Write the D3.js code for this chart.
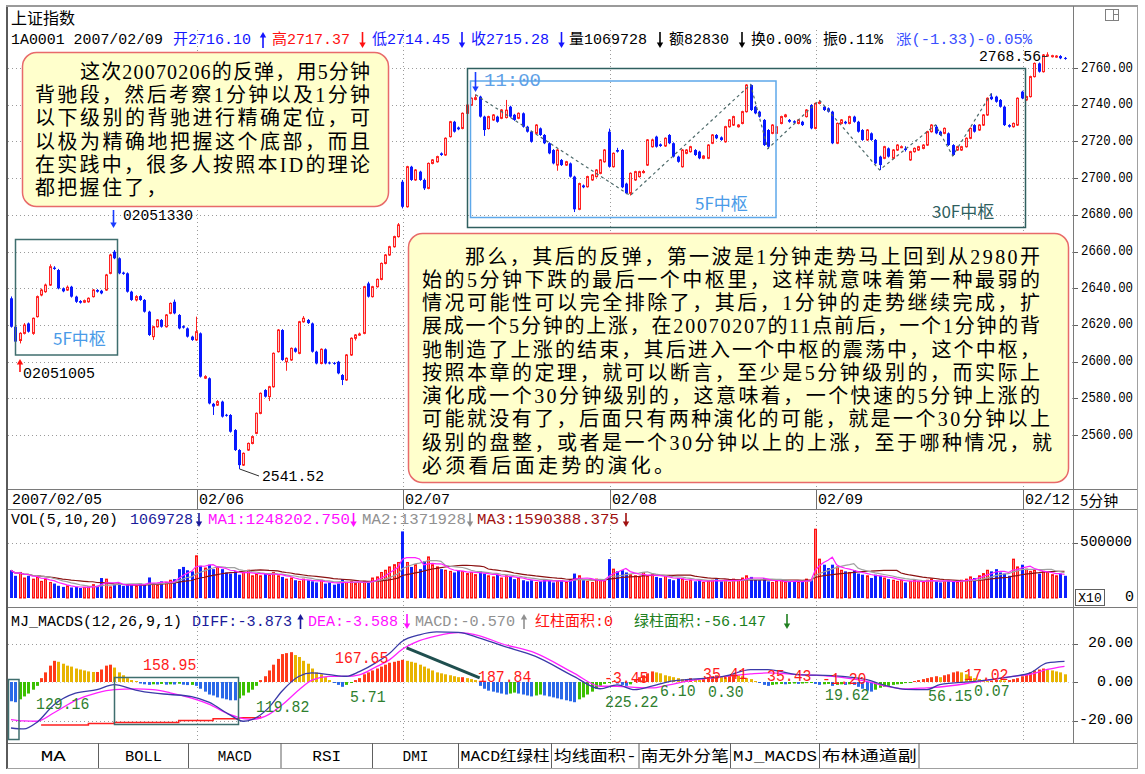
<!DOCTYPE html>
<html><head><meta charset="utf-8">
<script src="https://cdn.jsdelivr.net/npm/d3@7/dist/d3.min.js"></script>
<style>html,body{margin:0;padding:0;background:#fff}svg{display:block}</style>
</head><body><svg id="c" width="1145" height="774"></svg>
<script>
// ---------------- DATA ----------------
const dayLabels = ["2007/02/05","02/06","02/07","02/08","02/09","02/12"];
const dayStartBars = [1,44,92,140,188,236];
const priceTicks = [2560,2580,2600,2620,2640,2660,2680,2700,2720,2740,2760];
const volTicks = [500];      // thousands -> label 500000
const macdTicks = [20,0,-20];

const opens = [2634.5,2619.0,2611.5,2615.4,2620.8,2615.4,2624.5,2636.3,2638.1,2641.7,
2651.2,2649.9,2639.9,2639.0,2640.8,2635.4,2633.0,2632.4,2632.6,2635.4,
2639.0,2638.6,2639.0,2648.1,2659.9,2656.3,2648.5,2648.1,2638.1,2633.6,
2635.7,2633.6,2627.2,2613.6,2619.0,2622.7,2619.0,2626.3,2632.6,2625.4,
2619.3,2618.1,2613.6,
2611.8,2615.4,2591.0,2590.9,2577.0,2576.3,2578.2,2571.0,2570.9,2562.7,
2551.8,2543.6,2551.8,2555.4,2560.9,2571.8,2584.5,2580.9,2586.3,2605.4,
2617.2,2599.9,2600.9,2607.2,2604.5,2621.7,2622.7,2620.8,2605.4,2599.0,
2606.7,2599.5,2599.3,2599.9,2592.7,2590.0,2603.6,2612.7,2614.5,2615.4,
2642.6,2635.4,2640.8,2644.8,2653.5,2658.1,2662.6,2668.1,
2698.0,2684.4,2706.2,2699.0,2703.5,2699.0,2694.4,2708.0,2708.9,2713.5,
2712.6,2722.6,2730.7,2727.6,2727.1,2735.3,2739.8,2742.9,2744.4,2733.5,
2727.0,2731.7,2733.5,2732.6,2733.0,2738.9,2734.5,2732.6,2735.3,2728.0,
2725.3,2724.4,2727.1,2723.5,2719.0,2715.3,2707.1,2709.9,2707.1,2708.0,
2700.8,2683.0,2696.0,2695.3,2699.0,2700.8,2702.6,2708.9,
2725.3,2706.2,2715.3,2715.3,2697.0,2691.7,2699.0,2700.8,2703.0,2707.1,
2717.1,2722.6,2718.4,2717.5,2723.5,2719.0,2711.7,2706.2,2713.5,2714.4,
2715.3,2714.4,2710.8,2710.8,2719.0,2723.5,2722.2,2719.8,2728.0,2728.9,
2728.0,2729.8,2736.2,2750.7,2738.9,2736.2,2731.7,2726.2,2724.4,2724.4,
2729.8,2733.5,2731.7,2731.0,2729.8,2730.7,2733.5,2739.8,
2727.1,2740.7,2738.9,2738.0,2736.2,2719.0,2729.8,2730.7,2729.8,2733.5,
2730.7,2726.2,2720.8,2724.4,2720.8,2711.7,2710.8,2716.2,2710.8,2715.3,
2716.8,2716.10,2709.9,2714.4,2715.3,2716.2,2718.0,2725.3,2728.0,2725.3,
2724.4,2724.4,2718.0,2715.3,2715.3,2717.1,2721.7,2728.9,2726.2,2728.9,
2734.4,2744.4,2744.4,2742.6,2738.9,2728.9,2728.0,2728.9,
2747.1,2742.6,2744.4,2755.3,2762.5,2758.0,2766.5,2766.2,2766.0,2766.5,2765.5];

const closes = [2619.0,2610.9,2615.4,2619.9,2616.3,2623.6,2635.4,2639.0,2641.7,2651.7,
2650.5,2639.9,2638.3,2640.5,2635.4,2632.6,2632.1,2633.2,2634.5,2639.0,
2638.1,2637.2,2647.2,2658.1,2656.3,2648.1,2647.8,2638.1,2633.6,2635.4,
2633.6,2627.2,2614.5,2619.0,2622.7,2619.0,2625.4,2631.7,2626.3,2618.1,
2618.5,2613.6,2611.8,
2616.3,2591.8,2591.8,2577.2,2575.5,2578.2,2570.0,2570.5,2561.8,2551.8,
2543.6,2550.0,2555.4,2559.1,2571.8,2582.7,2580.9,2586.3,2604.5,2617.2,
2600.9,2601.8,2607.2,2605.4,2621.7,2623.6,2621.0,2605.4,2599.0,2606.7,
2599.0,2599.0,2598.8,2593.6,2590.0,2603.6,2612.7,2614.5,2615.0,2640.8,
2635.4,2640.8,2644.8,2653.5,2658.1,2662.6,2668.1,2674.5,
2684.4,2706.2,2699.0,2704.4,2699.0,2694.4,2708.0,2709.9,2711.7,2712.6,
2721.7,2730.7,2725.3,2726.6,2735.3,2739.8,2743.5,2743.8,2733.5,2726.2,
2733.5,2734.4,2730.7,2737.1,2737.0,2733.5,2731.7,2735.3,2728.0,2725.3,
2719.8,2728.9,2723.5,2719.0,2713.5,2708.0,2715.3,2707.1,2708.9,2700.8,
2683.0,2697.0,2695.0,2700.8,2701.7,2704.4,2709.9,2715.3,
2706.2,2713.5,2714.4,2695.0,2691.7,2702.6,2703.5,2703.5,2703.6,2720.8,
2720.8,2717.1,2717.5,2721.7,2719.0,2711.7,2708.9,2715.3,2715.3,2717.1,
2712.6,2710.8,2712.0,2718.0,2723.5,2721.7,2720.8,2728.0,2731.7,2733.5,
2728.9,2736.2,2750.7,2737.1,2735.3,2733.5,2718.0,2717.1,2728.9,2728.0,
2733.5,2734.4,2730.7,2730.2,2731.7,2728.9,2737.1,2727.1,
2740.7,2741.3,2737.1,2736.2,2719.0,2729.8,2731.7,2729.8,2733.5,2730.7,
2725.3,2720.8,2726.2,2720.8,2708.0,2707.1,2717.1,2711.7,2715.3,2718.0,
2717.1,2715.28,2714.4,2716.2,2717.1,2718.0,2725.3,2728.9,2724.4,2723.5,
2727.1,2718.0,2712.6,2717.1,2717.1,2721.7,2727.1,2725.3,2728.9,2734.4,
2743.5,2743.0,2741.6,2738.9,2728.9,2728.0,2729.8,2743.5,
2743.5,2744.4,2755.3,2762.5,2758.0,2767.1,2767.1,2766.7,2766.5,2765.3,2765.0];

const highs = [2635.5,2619.5,2616.0,2621.0,2621.3,2624.0,2636.0,2639.8,2642.5,2653.0,
2652.0,2650.5,2640.4,2641.5,2641.3,2635.9,2633.5,2633.8,2635.0,2639.5,
2639.5,2639.1,2647.8,2658.8,2660.8,2656.8,2649.0,2648.6,2638.6,2636.2,
2636.2,2634.1,2627.7,2619.5,2623.2,2623.2,2625.9,2632.2,2633.8,2625.9,
2619.8,2618.6,2614.1,
2624.5,2615.9,2592.6,2591.4,2577.5,2579.0,2578.7,2571.5,2571.4,2563.2,
2552.3,2550.5,2555.9,2559.6,2572.3,2583.2,2585.0,2586.8,2605.0,2617.7,
2617.7,2602.3,2607.7,2607.7,2622.2,2624.8,2623.2,2621.3,2605.9,2607.2,
2607.2,2600.0,2599.8,2600.4,2593.2,2604.1,2613.2,2615.0,2615.8,2641.3,
2643.5,2641.3,2645.3,2654.0,2658.6,2663.1,2668.6,2675.5,
2699.0,2706.7,2706.7,2704.9,2704.0,2699.5,2708.5,2710.4,2712.2,2714.0,
2722.2,2731.2,2731.2,2728.1,2735.8,2740.3,2744.0,2745.5,2744.9,2734.0,
2734.0,2734.9,2734.0,2737.6,2742.6,2739.4,2735.0,2735.8,2735.8,2728.5,
2725.8,2729.4,2727.6,2724.0,2719.5,2715.8,2715.8,2710.4,2709.4,2708.5,
2701.3,2697.5,2696.5,2701.3,2702.2,2704.9,2710.4,2715.8,
2727.0,2714.0,2716.5,2715.8,2697.5,2703.1,2704.0,2704.0,2704.5,2721.3,
2721.5,2723.1,2718.9,2722.2,2724.0,2719.5,2712.2,2715.8,2715.8,2717.6,
2715.8,2714.9,2712.5,2718.5,2724.0,2724.0,2722.7,2728.5,2732.2,2734.0,
2729.4,2736.7,2751.2,2751.0,2739.4,2736.7,2732.2,2726.7,2729.4,2728.5,
2734.0,2735.0,2732.2,2731.5,2732.2,2731.2,2737.6,2740.3,
2741.2,2742.5,2739.4,2738.5,2736.7,2730.3,2732.2,2731.2,2734.0,2734.0,
2731.2,2726.7,2726.7,2724.9,2721.3,2712.2,2717.6,2716.7,2715.8,2718.5,
2717.8,2717.37,2714.9,2716.7,2717.6,2718.5,2725.8,2729.4,2729.0,2725.8,
2727.6,2724.9,2718.5,2717.6,2717.6,2722.2,2727.6,2729.4,2729.4,2734.9,
2744.0,2746.2,2744.9,2743.1,2739.4,2729.4,2730.3,2744.0,
2747.6,2744.9,2755.8,2763.0,2763.0,2767.6,2768.56,2767.2,2767.0,2767.0,2766.0];

const lows = [2618.5,2610.4,2609.9,2614.8,2615.8,2614.6,2624.0,2635.6,2637.5,2641.2,
2650.0,2639.4,2637.8,2638.5,2634.9,2632.0,2631.6,2631.9,2632.1,2634.9,
2637.6,2636.7,2638.5,2647.6,2655.8,2647.6,2647.3,2637.6,2633.1,2632.8,
2633.1,2626.7,2614.0,2611.8,2618.5,2618.5,2618.5,2625.8,2625.8,2617.6,
2618.0,2613.1,2611.3,
2611.3,2591.3,2590.5,2576.7,2570.9,2575.8,2569.5,2570.0,2561.3,2551.3,
2541.52,2543.1,2551.3,2554.9,2560.4,2571.3,2580.4,2578.5,2585.8,2604.9,
2600.4,2595.0,2600.4,2604.9,2604.0,2621.2,2620.5,2604.9,2598.5,2598.5,
2598.5,2598.5,2598.3,2593.1,2587.2,2589.5,2603.1,2611.5,2614.0,2614.9,
2634.9,2634.9,2640.3,2644.3,2653.0,2657.6,2662.1,2667.6,
2683.5,2683.9,2698.5,2698.5,2698.5,2693.5,2693.9,2707.5,2708.4,2712.1,
2712.1,2722.1,2724.8,2726.1,2726.6,2734.8,2739.3,2742.4,2733.0,2723.0,
2726.5,2731.2,2730.2,2732.1,2732.5,2733.0,2731.2,2732.1,2727.5,2724.8,
2719.3,2723.9,2723.0,2718.5,2713.0,2707.5,2704.0,2706.6,2706.6,2700.3,
2681.5,2682.5,2694.5,2694.8,2698.5,2700.3,2702.1,2708.4,
2705.7,2705.7,2713.9,2694.5,2691.2,2690.5,2698.5,2700.3,2702.5,2706.6,
2716.6,2716.6,2717.0,2717.0,2718.5,2711.2,2708.4,2705.7,2713.0,2713.9,
2712.1,2710.3,2710.3,2710.3,2718.5,2721.2,2720.3,2719.3,2727.5,2728.4,
2727.5,2729.3,2735.7,2736.6,2734.8,2733.0,2717.5,2716.0,2723.9,2723.9,
2729.3,2733.0,2730.2,2729.7,2729.3,2728.4,2733.0,2726.6,
2726.6,2740.2,2736.6,2735.7,2718.5,2718.5,2729.3,2729.3,2729.3,2730.2,
2724.8,2720.3,2720.3,2720.3,2707.5,2704.4,2710.3,2711.2,2710.3,2714.8,
2716.3,2714.45,2709.4,2713.9,2714.8,2715.7,2717.5,2724.8,2723.9,2723.0,
2723.9,2717.5,2712.1,2714.8,2714.8,2716.6,2721.2,2724.8,2725.7,2728.4,
2733.9,2742.5,2741.1,2738.4,2728.4,2727.5,2727.5,2728.4,
2743.0,2742.1,2743.9,2754.8,2757.5,2757.5,2766.0,2765.7,2765.5,2764.8,2764.5];

// volume in thousands (axis units)
const volumes = [250,200,230,180,200,170,190,150,170,140,
130,110,100,110,95,100,90,95,100,120,
110,180,170,100,120,130,110,120,125,110,
130,120,185,130,120,150,140,160,170,260,
280,250,240,
380,290,270,300,260,280,260,
230,220,240,210,230,250,200,220,200,220,
210,230,200,190,170,180,160,150,170,160,
150,140,160,130,140,120,130,170,140,150,
130,140,150,140,180,190,230,250,280,300,320,
600,320,280,300,260,330,370,300,280,
260,250,240,230,250,240,220,230,210,240,
220,200,190,210,180,200,190,170,180,160,
150,160,140,150,170,160,140,150,160,140,
170,220,200,160,150,140,170,160,150,
350,260,240,250,230,210,200,190,230,200,210,
190,180,200,170,160,180,170,150,160,150,
160,140,150,160,170,150,160,140,170,160,
180,200,190,170,160,180,150,140,150,160,
140,150,160,140,150,170,160,
620,350,300,270,300,280,250,240,230,250,220,
210,200,180,210,200,180,170,160,150,160,
140,150,160,150,140,160,170,150,140,150,
160,150,140,160,170,190,180,200,220,250,
240,260,230,220,200,350,280,
300,260,240,250,220,240,230,210,200,220,200];

const macdHist = [-10,-10.5,-9,-7.5,-6,-4,-2,2,5,8.5,
11,10.5,9.5,8.5,8,7,6.5,6,5.5,5.2,
5.2,6.5,8.5,9,7.5,5,3.5,2,1,0.5,
-0.8,-1.2,-1.5,-1.2,-1.3,-1,-1.4,-1.2,-1.3,-0.9,
-1.4,-1.6,-1.5,-2,-3.5,-5,-6.5,-7,-8,-8.5,
-9,-9.5,-9.5,-8.5,-7,-5.5,-4,-2,1,3,
6,9,12,14.5,15,15.5,14,13,11,9.5,
7,5,4,2.5,1,-0.5,-1.5,-2.5,-1.5,-0.5,
1,2,4,5,6,7,8,9,10,10.5,
11,11.5,11,10.5,10,9,8,7,6,5,
4.5,4,3.5,3,2.5,2.5,2,1.5,1,-2,
-3.5,-4.5,-5,-5.5,-6,-6.5,-6,-5.5,-6,-6.5,
-7,-7.5,-7,-6.5,-7,-7.5,-8,-8.5,-9,-9.5,
-10,-10.5,-9,-8,-6.5,-5,-3.5,-2,-1,-0.5,
0.5,-0.8,-1.5,-2,-1.2,1,2.5,3.5,4.5,5.5,
5,4.5,3.5,3,2.5,2,1.5,1.5,2,1.5,
1,1.5,2.5,3,3.5,3,2.5,3.5,4,3.5,
3,2,1.5,0.5,-0.5,-1.5,-2,-1.5,-1.2,-1,
-1.2,-1,-0.8,-1,-0.8,-0.6,-0.5,-1,-1.5,-1.2,
-1,-2,-1.5,-1.2,-1.5,-1.2,-1.5,-2.5,-3.5,-4.5,
-5,-4,-3,-2.5,-2,-1.5,-1.2,-1,-0.57,-0.3,
0.5,1,1.5,2,2.5,3,2.5,3.5,4,5,
5.5,5,4,3,2,1.5,1,0.5,0.8,1.2,
1,0.8,1,1.5,2,3,4,5,6,6.5,
7,6.5,6,5.5,5,4];

// DIFF / DEA read at key bars
const lineKeyBars = [1,4,7,11,16,21,25,30,34,38,43,47,52,55,57,61,64,68,71,75,79,82,86,89,92,96,100,105,110,115,123,132,138,142,146,150,154,158,167,173,177,184,192,200,205,209,214,217,225,234,238,242,246];
const diffVals = [-23.9,-24.4,-21,-11.8,-5.8,-4.0,-1.4,-4.2,-5.7,-6.5,-7.6,-10.5,-17.2,-20.4,-19.6,-13.2,-4.8,3.0,4.7,3.8,3.0,5.4,10.2,14.8,21.2,24.5,26,25.8,22.8,19,13.3,2.8,-3.5,-1.5,-4.0,-2.2,0.2,1.2,3,6.4,6.4,3.8,3.3,1.2,-2.2,-3.87,-4.0,-1.4,0.3,2.9,4.7,9.9,10.7];
const deaVals = [-19.5,-20.2,-20.4,-16,-9.5,-5.6,-4.0,-3.6,-4.0,-5.6,-8.4,-11.5,-17.0,-19,-19.4,-16.8,-12,-4,1,2.9,2.9,3.7,8,11.5,17,21.5,24,25.6,24,20,15,4.5,-2.2,-2.2,-2.8,-3.1,-1.5,0.3,2.9,4.2,4.7,3.8,2.9,0.3,-2.4,-3.59,-3.0,-2.6,-0.2,2.9,4,6.5,8.1];
const redLineBars = [8,19,25,40,48,54,59];
const redLineVals = [-22.3,-21.5,-21.0,-20.0,-19.1,-18.6,-17.7];

const zigzag = [[109,2745.5],[145,2690.5],[173,2751],[177,2716],[189,2742.5],[203,2704.4],[216,2729],[220,2712.1],[229,2746.2]];

const macdNotes = [["158.95",143,666,"r"],["129.16",36,705,"g"],["119.82",256,708,"g"],["167.65",335,659,"r"],["5.71",350,698,"g"],["187.84",478,678,"r"],
["-3.45",604,679,"r"],["225.22",605,703,"g"],["6.10",660,692,"g"],["35.41",703,675,"r"],["0.30",708,693,"g"],["35.43",767,677,"r"],["-1.20",822,680,"r"],["19.62",825,696,"g"],["56.15",928,697,"g"],["17.02",964,676,"r"],["0.07",974,692,"g"]];

const leftNote=["这次20070206的反弹，用5分钟","背驰段，然后考察1分钟以及1分钟","以下级别的背驰进行精确定位，可","以极为精确地把握这个底部，而且","在实践中，很多人按照本ID的理论","都把握住了，"];
const rightNote=["那么，其后的反弹，第一波是1分钟走势马上回到从2980开","始的5分钟下跌的最后一个中枢里，这样就意味着第一种最弱的","情况可能性可以完全排除了，其后，1分钟的走势继续完成，扩","展成一个5分钟的上涨，在20070207的11点前后，一个1分钟的背","驰制造了上涨的结束，其后进入一个中枢的震荡中，这个中枢，","按照本章的定理，就可以断言，至少是5分钟级别的，而实际上","演化成一个30分钟级别的，这意味着，一个快速的5分钟上涨的","可能就没有了，后面只有两种演化的可能，就是一个30分钟以上","级别的盘整，或者是一个30分钟以上的上涨，至于哪种情况，就","必须看后面走势的演化。"];
const tabs = ["MA","BOLL","MACD","RSI","DMI","MACD红绿柱","均线面积-","南无外分笔","MJ_MACDS","布林通道副"];

// ---------------- DRAW ----------------
const svg=d3.select('#c');
const MONO='"Liberation Mono","Noto Sans CJK SC",monospace';
const SER='"Liberation Serif","Noto Sans CJK SC",serif';
const CJK='"Noto Sans CJK SC","Noto Sans",sans-serif';
function T(p,x,y,s,o){o=o||{};const t=p.append('text').attr('x',x).attr('y',y).text(s)
 .attr('font-family',o.f||MONO).attr('font-size',o.s||15).attr('fill',o.c||'#000').attr('dominant-baseline','central');
 if(o.a)t.attr('text-anchor',o.a);if(o.len)t.attr('textLength',o.len).attr('lengthAdjust',o.adj||'spacingAndGlyphs');
 if(o.ls)t.attr('letter-spacing',o.ls);if(o.w)t.attr('font-weight',o.w);return t;}
function L(p,x1,y1,x2,y2,c,w,d){const l=p.append('line').attr('x1',x1).attr('y1',y1).attr('x2',x2).attr('y2',y2).attr('stroke',c).attr('stroke-width',w||1);if(d)l.attr('stroke-dasharray',d);return l;}
function Arrow(p,x,tail,head,c){const d=head>tail?1:-1;
 L(p,x,tail,x,head-d*4,c,1.6);
 p.append('path').attr('d',`M${x-3.2},${head-d*5.5}L${x+3.2},${head-d*5.5}L${x},${head}Z`).attr('fill',c);}

const xS=d3.scaleLinear().domain([1,246]).range([11,1064.5]);
const yP=d3.scaleLinear().domain([2560,2760]).range([435,68]);
const yV=d3.scaleLinear().domain([0,500]).range([598,542.5]);
const yM=d3.scaleLinear().domain([-20,20]).range([720.5,643.5]);

svg.append('rect').attr('width',1145).attr('height',774).attr('fill','#fff');
const gGrid=svg.append('g'), gMain=svg.append('g'), gTop=svg.append('g');

const DOT='1,3', GC='#9a9a9a';
priceTicks.forEach(p=>{const y=Math.round(yP(p))+0.5;L(gGrid,8,y,1073,y,GC,1,DOT);L(gGrid,1073,y,1078,y,'#606060',1);});
volTicks.forEach(v=>{const y=Math.round(yV(v))+0.5;L(gGrid,8,y,1073,y,GC,1,DOT);L(gGrid,1073,y,1078,y,'#606060',1);});
macdTicks.forEach(v=>{const y=Math.round(yM(v))+0.5;L(gGrid,8,y,1073,y,v===0?'#c8c8c8':GC,1,DOT);L(gGrid,1073,y,1078,y,'#606060',1);});
dayStartBars.slice(1).forEach(b=>{const x=Math.round(xS(b))+1.5;
 L(gGrid,x,30,x,489,GC,1,DOT);L(gGrid,x,489,x,509,'#707070',1);L(gGrid,x,509,x,607,GC,1,DOT);L(gGrid,x,607,x,743,GC,1,DOT);});

L(gTop,7,5,7,769,'#5a5a5a',2);
L(gTop,6,6,1138,6,'#9a9a9a',2);
L(gTop,1137.5,6,1137.5,769,'#a0a0a0',1);
L(gTop,7,768.5,1138,768.5,'#a0a0a0',1);
L(gTop,1073.5,6,1073.5,743,'#7a7a7a',1);
[489.5,509.5,607.5,743.5].forEach(y=>L(gTop,8,y,1137,y,'#7a7a7a',1));
gTop.append('rect').attr('x',1105.5).attr('y',9.5).attr('width',13).attr('height',11).attr('fill','none').attr('stroke','#808080');
L(gTop,1113.5,9.5,1113.5,20.5,'#808080',1);L(gTop,1113.5,14.5,1118.5,14.5,'#808080',1);

for(let i=0;i<closes.length;i++){
 const cx=Math.round(xS(i+1)), up=closes[i]>=opens[i], col=up?'#ff2020':'#0818ff';
 L(gMain,cx+0.5,yP(highs[i]),cx+0.5,yP(lows[i]),col,1);
 const yt=yP(Math.max(opens[i],closes[i])), h=Math.max(1,yP(Math.min(opens[i],closes[i]))-yt);
 if(up) gMain.append('rect').attr('x',cx-0.5).attr('y',yt).attr('width',2).attr('height',h).attr('fill','#ffc8c8').attr('stroke',col).attr('stroke-width',1);
 else gMain.append('rect').attr('x',cx-1).attr('y',yt).attr('width',3).attr('height',h).attr('fill',col);
}
for(let i=0;i<volumes.length;i++){
 const cx=Math.round(xS(i+1)), up=closes[i]>=opens[i], yt=yV(volumes[i]);
 if(up) gMain.append('rect').attr('x',cx-0.5).attr('y',yt).attr('width',2).attr('height',yV(0)-yt).attr('fill','#ff7070').attr('stroke','#ff1010').attr('stroke-width',1);
 else gMain.append('rect').attr('x',cx-1).attr('y',yt).attr('width',3).attr('height',yV(0)-yt).attr('fill','#0c20ff');
}
function ma(arr,n){return arr.map((v,i)=>d3.mean(arr.slice(Math.max(0,i-n+1),i+1)));}
[[20,'#8b1010'],[10,'#a0a0a0'],[5,'#ff20ff']].forEach(([n,c])=>{
 const m=ma(volumes,n);
 gMain.append('path').attr('d',d3.line().x((d,i)=>xS(i+1)).y(d=>yV(d))(m)).attr('fill','none').attr('stroke',c).attr('stroke-width',1.2);
});
for(let i=0;i<macdHist.length;i++){
 const v=macdHist[i], pv=i?macdHist[i-1]:v, cx=Math.round(xS(i+1));
 let c; if(v>=0) c=(v>=pv)?'#ff3a1a':'#e8b400'; else c=(v<=pv)?'#2a68e8':'#3cc000';
 const y0=yM(0), y1=yM(v);
 gMain.append('rect').attr('x',cx-1).attr('y',Math.min(y0,y1)).attr('width',3).attr('height',Math.max(1,Math.abs(y1-y0))).attr('fill',c);
}
gMain.append('path').attr('d',d3.line().x((d,i)=>xS(redLineBars[i])).y(d=>yM(d)).curve(d3.curveStepAfter)(redLineVals))
 .attr('fill','none').attr('stroke','#ff2020').attr('stroke-width',1.5);
const lineGen=vals=>d3.line().x((d,i)=>xS(lineKeyBars[i])).y(d=>yM(d)).curve(d3.curveMonotoneX)(vals);
gMain.append('path').attr('d',lineGen(deaVals)).attr('fill','none').attr('stroke','#ff20ff').attr('stroke-width',1.3);
gMain.append('path').attr('d',lineGen(diffVals)).attr('fill','none').attr('stroke','#3a3aa8').attr('stroke-width',1.3);
gTop.append('rect').attr('x',8.5).attr('y',679.5).attr('width',10.5).attr('height',60).attr('fill','none').attr('stroke','#3f6e6e').attr('stroke-width',1.5);
gTop.append('rect').attr('x',114.5).attr('y',677.5).attr('width',124).attr('height',47).attr('fill','none').attr('stroke','#3f6e6e').attr('stroke-width',1.5);
L(gTop,xS(93),yM(17.7),xS(110),yM(2.1),'#1f4f4f',3);
macdNotes.forEach(([s,x,y,k])=>T(gTop,x,y,s,{c:k==='r'?'#ff1a1a':'#2f7f2f',s:16,len:s.length*8.9}));

gMain.append('path').attr('d',d3.line().x(d=>xS(d[0])).y(d=>yP(d[1]))(zigzag)).attr('fill','none').attr('stroke','#4e6a6a').attr('stroke-width',1.2).attr('stroke-dasharray','3,3');

gTop.append('rect').attr('x',15.5).attr('y',239.5).attr('width',102).attr('height',115.5).attr('fill','none').attr('stroke','#3f6e6e').attr('stroke-width',1.5);
gTop.append('rect').attr('x',467.5).attr('y',68.5).attr('width',558).attr('height',159).attr('fill','none').attr('stroke','#2f5f5f').attr('stroke-width',1.5);
gTop.append('rect').attr('x',470.5).attr('y',81).attr('width',305.5).attr('height',136.5).attr('fill','none').attr('stroke','#5ea8ea').attr('stroke-width',1.5);
T(gTop,53,337,"5F中枢",{f:CJK,s:17,c:'#4a9be8'});
T(gTop,695,202,"5F中枢",{f:CJK,s:17,c:'#4a9be8'});
T(gTop,932,210,"30F中枢",{f:CJK,s:17,c:'#2f5f5f'});
T(gTop,484,81,"11:00",{s:19,c:'#5ea0e6'});
Arrow(gTop,475.5,72,92,'#1a3cff');
Arrow(gTop,20,372,359,'#ff1010');
T(gTop,23,374,"02051005",{s:15,len:72});
Arrow(gTop,113.5,210,228,'#1a3cff');
T(gTop,123,216,"02051330",{s:15,len:70});
L(gTop,xS(54)+0.5,yP(2541.52),259,476,'#303030',1);
T(gTop,262,477,"2541.52",{s:15,len:62});
L(gTop,1042,56.5,xS(242),56.5,'#303030',1);
T(gTop,979,57,"2768.56",{s:14,len:62});

function note(x,y,w,h,lines,pos,y0,dy,ls){
 gTop.append('rect').attr('x',x).attr('y',y).attr('width',w).attr('height',h).attr('rx',14).attr('fill','#ffffcc').attr('stroke','#e86a6a').attr('stroke-width',1.5);
 lines.forEach((s,i)=>{const [lx,len]=pos[i];T(gTop,lx,y0+i*dy,s,{f:SER,s:20,ls:len?null:ls,len:len||null,adj:'spacing'});});
}
note(22.5,52.5,366,154,leftNote,[[80,290],[35,335],[35,335],[35,335],[35,335],[35,0]],71.7,23.3,2.3);
note(408.5,233.5,660,249,rightNote,[[465,575],[422,618],[422,618],[422,618],[422,618],[422,618],[422,618],[422,628],[422,630],[422,0]],256.7,23.25,3.2);

T(gTop,11,17,"上证指数",{f:CJK,s:16});
const hy=40;
T(gTop,11,hy,"1A0001 2007/02/09",{s:15,len:152});
T(gTop,173,hy,"开2716.10",{s:15,c:'#1414ff'});
Arrow(gTop,263,48,32,'#1414ff');
T(gTop,272,hy,"高2717.37",{s:15,c:'#ff1010'});
Arrow(gTop,362.5,32,48,'#ff1010');
T(gTop,372,hy,"低2714.45",{s:15,c:'#1414ff'});
Arrow(gTop,462,32,48,'#1414ff');
T(gTop,471,hy,"收2715.28",{s:15,c:'#1414ff'});
Arrow(gTop,561.5,32,48,'#1414ff');
T(gTop,569,hy,"量1069728",{s:15});
Arrow(gTop,660,32,48,'#000');
T(gTop,669,hy,"额82830",{s:15});
Arrow(gTop,742,32,48,'#000');
T(gTop,751,hy,"换0.00%",{s:15});
T(gTop,823,hy,"振0.11%",{s:15});
T(gTop,896,hy,"涨(-1.33)-0.05%",{s:14,c:'#3a50ff',len:136});

priceTicks.forEach(p=>T(gTop,1133,yP(p),p.toFixed(2),{s:15,a:'end',len:52}));
dayLabels.forEach((s,i)=>T(gTop,Math.round(xS(dayStartBars[i]))+(i?3:1),500,s,{s:15}));
T(gTop,1080,499,"5分钟",{f:CJK,s:15});

const vy=520;
T(gTop,11,vy,"VOL(5,10,20)",{s:15,len:107});
T(gTop,130,vy,"1069728",{s:15,c:'#1a1a9a',len:63});
Arrow(gTop,199,513,527,'#1a1a9a');
T(gTop,208,vy,"MA1:1248202.750",{s:15,c:'#ff10ff',len:142});
Arrow(gTop,353.5,513,527,'#ff10ff');
T(gTop,362,vy,"MA2:1371928",{s:15,c:'#909090',len:104});
Arrow(gTop,470,513,527,'#909090');
T(gTop,477,vy,"MA3:1590388.375",{s:15,c:'#a01010',len:142});
Arrow(gTop,626,513,527,'#a01010');
volTicks.forEach(v=>T(gTop,1132,yV(v),(v*1000)+"",{s:15,a:'end',len:52}));
T(gTop,1134,597,"0",{s:15,a:'end'});
gTop.append('rect').attr('x',1075.5).attr('y',589.5).attr('width',29).attr('height',16).attr('fill','#fff').attr('stroke','#606060');
T(gTop,1090,598,"X10",{s:13,a:'middle'});

const my=622;
T(gTop,11,my,"MJ_MACDS(12,26,9,1)",{s:15,len:171});
T(gTop,192,my,"DIFF:-3.873",{s:15,c:'#1a1a9a',len:100});
Arrow(gTop,300.5,629,614,'#1a1a9a');
T(gTop,308,my,"DEA:-3.588",{s:15,c:'#ff10ff',len:90});
Arrow(gTop,407,614,629,'#ff10ff');
T(gTop,415,my,"MACD:-0.570",{s:15,c:'#909090',len:100});
Arrow(gTop,524,629,614,'#909090');
T(gTop,535,my,"红柱面积:0",{s:15,c:'#ff1010'});
T(gTop,634,my,"绿柱面积:-56.147",{s:15,c:'#208020'});
Arrow(gTop,787,614,629,'#208020');
macdTicks.forEach(v=>T(gTop,1133,yM(v),v.toFixed(2),{s:15,a:'end'}));

const tabX=[8,98.5,188.5,281,372.5,458.5,551.5,639,730.5,819.5,919];
const tabLen=[25,37,34,29,26,89,83,88,84,95];
tabs.forEach((s,i)=>{L(gTop,tabX[i+1],743,tabX[i+1],768,'#606060',1);
 T(gTop,(tabX[i]+tabX[i+1])/2,757,s,{s:15,a:'middle',len:tabLen[i]});});
</script></body></html>
